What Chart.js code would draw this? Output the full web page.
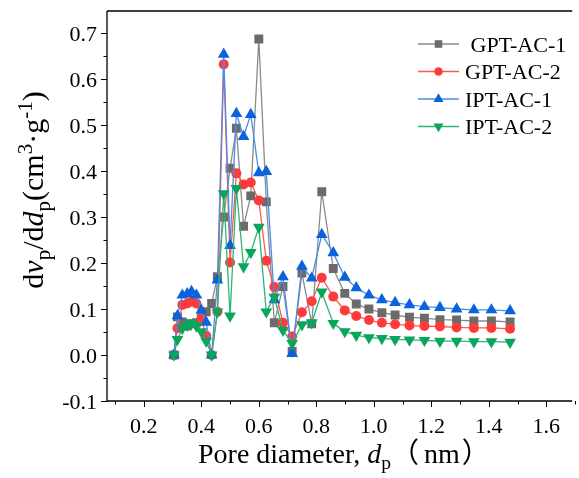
<!DOCTYPE html>
<html>
<head>
<meta charset="utf-8">
<script src="https://cdn.jsdelivr.net/npm/chart.js@4.4.0/dist/chart.umd.min.js"></script>
<style>
html, body { margin: 0; padding: 0; background: #fff; overflow: hidden; }
</style>
</head>
<body>
<canvas id="psdChart" width="579" height="478"></canvas>
<script>
// Pore size distribution
const poreDiameter = [0.305, 0.317, 0.334, 0.351, 0.366, 0.383, 0.400, 0.417, 0.436, 0.456,
    0.478, 0.500, 0.522, 0.547, 0.572, 0.600, 0.626, 0.654, 0.684, 0.716,
    0.750, 0.784, 0.819, 0.859, 0.899, 0.939, 0.983, 1.028, 1.074, 1.124,
    1.176, 1.230, 1.288, 1.348, 1.409, 1.474];

const gptAc1 = [0, 0.083, 0.072, 0.063, 0.068, 0.070, 0.080, 0.094, 0.112, 0.170,
    0.300, 0.406, 0.493, 0.280, 0.346, 0.687, 0.333, 0.070, 0.149, 0.008,
    0.178, 0.068, 0.355, 0.188, 0.134, 0.111, 0.100, 0.092, 0.087, 0.082,
    0.080, 0.077, 0.076, 0.074, 0.074, 0.072];

const gptAc2 = [0, 0.058, 0.109, 0.112, 0.116, 0.112, 0.079, 0.042, 0, 0.094,
    0.632, 0.201, 0.395, 0.371, 0.375, 0.336, 0.205, 0.148, 0.070, 0.040,
    0.093, 0.117, 0.168, 0.127, 0.097, 0.085, 0.076, 0.070, 0.067, 0.064,
    0.063, 0.062, 0.060, 0.059, 0.059, 0.057];

const iptAc1 = [0, 0.085, 0.130, 0.133, 0.138, 0.130, 0.097, 0.071, 0, 0.163,
    0.654, 0.238, 0.525, 0.475, 0.523, 0.396, 0.399, 0.120, 0.170, 0.003,
    0.193, 0.167, 0.262, 0.222, 0.169, 0.146, 0.130, 0.120, 0.114, 0.109,
    0.105, 0.103, 0.100, 0.098, 0.098, 0.096];

const iptAc2 = [0, 0.034, 0.058, 0.065, 0.070, 0.063, 0.051, 0.030, 0, 0.094,
    0.351, 0.085, 0.362, 0.192, 0.223, 0.278, 0.094, 0.126, 0.054, 0.025,
    0.066, 0.070, 0.137, 0.069, 0.051, 0.043, 0.038, 0.036, 0.034, 0.033,
    0.032, 0.030, 0.030, 0.029, 0.029, 0.028];

const seriesLabels = [' GPT-AC-1', 'GPT-AC-2', 'IPT-AC-1', 'IPT-AC-2'];
const xTickLabels = ['0.2', '0.4', '0.6', '0.8', '1.0', '1.2', '1.4', '1.6'];
const yTickLabels = ['-0.1', '0.0', '0.1', '0.2', '0.3', '0.4', '0.5', '0.6', '0.7'];

const SERIF = "'Liberation Serif', 'Times New Roman', serif";
const CJK = "'Noto Sans CJK SC', sans-serif";

function pairs(ys) {
    return poreDiameter.map((x, i) => ({ x: x, y: ys[i] }));
}

function makeSet(label, ys, marker, line, style, radius, rotation, order) {
    return {
        label: label,
        data: pairs(ys),
        borderColor: line,
        backgroundColor: marker,
        pointBackgroundColor: marker,
        pointBorderColor: marker,
        pointBorderWidth: 0,
        pointStyle: style,
        pointRadius: radius,
        pointRotation: rotation,
        borderWidth: 1.3,
        tension: 0,
        order: order
    };
}

// Draw mixed roman / italic / sub / sup text, returns width
function richText(ctx, parts, x, y, size, measureOnly) {
    let cx = x;
    for (const p of parts) {
        const small = p.sub || p.sup;
        const fs = small ? size * 0.7 : size;
        ctx.font = (p.it ? 'italic ' : '') + fs + 'px ' + (p.cjk ? CJK : SERIF);
        const dy = p.sub ? size * 0.22 : (p.sup ? -size * 0.36 : 0);
        cx += p.dx || 0;
        if (!measureOnly) ctx.fillText(p.t, cx, y + dy);
        cx += ctx.measureText(p.t).width;
    }
    return cx - x;
}

const xTitle = [
    { t: 'Pore diameter, ' }, { t: 'd', it: true }, { t: 'p', sub: true },
    { t: '（', cjk: true }, { t: 'nm', dx: 5 }, { t: '）', cjk: true, dx: 2 }
];
const yTitle = [
    { t: 'd' }, { t: 'v', it: true }, { t: 'p', sub: true }, { t: '/d' },
    { t: 'd', it: true }, { t: 'p', sub: true }, { t: '(cm' }, { t: '3', sup: true },
    { t: '·g' }, { t: '-1', sup: true }, { t: ')' }
];

// Axes frame, ticks, labels, titles and legend
const decorations = {
    id: 'decorations',
    afterDraw(chart) {
        const { ctx, chartArea: a, scales: { x, y } } = chart;
        ctx.save();
        ctx.strokeStyle = '#000';
        ctx.fillStyle = '#000';
        ctx.lineWidth = 1.3;
        ctx.beginPath();
        ctx.moveTo(a.left, a.top);
        ctx.lineTo(a.left, a.bottom);
        ctx.lineTo(a.right, a.bottom);
        ctx.moveTo(a.left, a.top);
        ctx.lineTo(a.right, a.top);
        ctx.stroke();

        // y ticks (major 0.1, minor 0.05)
        ctx.lineWidth = 1;
        ctx.beginPath();
        for (let v = -0.1; v <= 0.701; v += 0.05) {
            const py = Math.round(y.getPixelForValue(v)) + 0.5;
            const major = Math.abs(Math.round(v * 20)) % 2 === 0;
            ctx.moveTo(a.left, py);
            ctx.lineTo(a.left - (major ? 6 : 3.5), py);
        }
        // x ticks (major 0.2, minor 0.1)
        for (let v = 0.1; v <= 1.701; v += 0.1) {
            const px = Math.round(x.getPixelForValue(v)) + 0.5;
            const major = Math.round(v * 10) % 2 === 0;
            ctx.moveTo(px, a.bottom);
            ctx.lineTo(px, a.bottom + (major ? 6 : 3.5));
        }
        ctx.stroke();

        ctx.font = '22px ' + SERIF;
        ctx.textBaseline = 'alphabetic';
        ctx.textAlign = 'right';
        yTickLabels.forEach(lbl => {
            ctx.fillText(lbl, a.left - 10, y.getPixelForValue(Number(lbl)) + 7.5);
        });
        ctx.textAlign = 'center';
        xTickLabels.forEach(lbl => {
            ctx.fillText(lbl, x.getPixelForValue(Number(lbl)), a.bottom + 32);
        });

        // axis titles
        ctx.textAlign = 'left';
        richText(ctx, xTitle, 198, 463, 28);
        const w = richText(ctx, yTitle, 0, 0, 30, true);
        ctx.save();
        ctx.translate(43, 190);
        ctx.rotate(-Math.PI / 2);
        richText(ctx, yTitle, -w / 2, 0, 30);
        ctx.restore();

        // legend: line + marker + label
        const rows = [44, 71.5, 99, 126.5];
        chart.data.datasets.forEach((ds, i) => {
            const ry = rows[i];
            ctx.strokeStyle = ds.borderColor;
            ctx.lineWidth = 1.3;
            ctx.beginPath();
            ctx.moveTo(418, ry);
            ctx.lineTo(459, ry);
            ctx.stroke();
            ctx.fillStyle = ds.pointBackgroundColor;
            Chart.helpers.drawPoint(ctx, {
                pointStyle: ds.pointStyle,
                rotation: ds.pointRotation,
                radius: ds.pointRadius * 0.85,
                borderWidth: 0
            }, 438.5, ry);
            ctx.fillStyle = '#000';
            ctx.font = '22px ' + SERIF;
            ctx.textAlign = 'left';
            ctx.fillText(ds.label, 465, ry + 7.5);
        });
        ctx.restore();
    }
};

const chartCanvas = document.getElementById('psdChart');
new Chart(chartCanvas, {
    type: 'line',
    data: {
        datasets: [
            makeSet(seriesLabels[0], gptAc1, '#6b6b6b', '#8a8a8a', 'rect', 6.3, 0, 4),
            makeSet(seriesLabels[1], gptAc2, '#ff3a3a', '#ff5656', 'circle', 5, 0, 3),
            makeSet(seriesLabels[2], iptAc1, '#0a62dc', '#4a8ee6', 'triangle', 6.8, 0, 2),
            makeSet(seriesLabels[3], iptAc2, '#08a65a', '#2db572', 'triangle', 6.8, 180, 1)
        ]
    },
    options: {
        responsive: false,
        animation: false,
        devicePixelRatio: 1,
        layout: { padding: { left: 107, right: 0, top: 11, bottom: 77 } },
        plugins: { legend: { display: false }, tooltip: { enabled: false } },
        scales: {
            x: { type: 'linear', min: 0.072, max: 1.69, display: false },
            y: { type: 'linear', min: -0.1, max: 0.748, display: false }
        }
    },
    plugins: [decorations]
});
</script>
</body>
</html>
